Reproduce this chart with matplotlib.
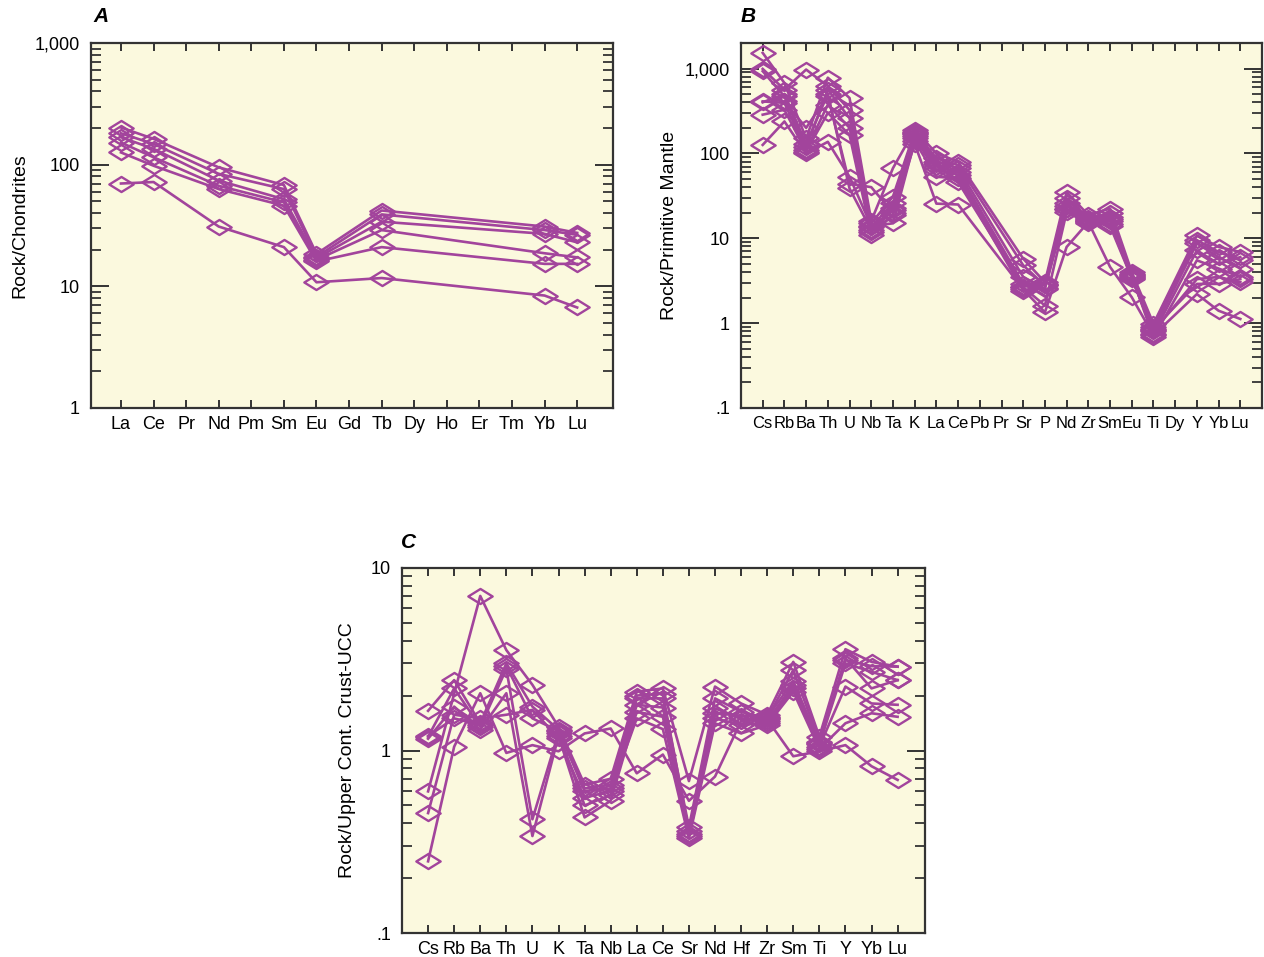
import numpy as np
import matplotlib
matplotlib.use("Agg")
import matplotlib.pyplot as plt
from matplotlib.path import Path
from matplotlib.markers import MarkerStyle
from matplotlib.ticker import FixedLocator, LogLocator, NullFormatter, FuncFormatter

nan = np.nan

# A: chondrite-normalized REE
ree = ["La", "Ce", "Pr", "Nd", "Pm", "Sm", "Eu", "Gd", "Tb", "Dy", "Ho", "Er", "Tm", "Yb", "Lu"]
ree_samples = [
    [202, 163, nan, 95, nan, 68, 18.5, nan, 42, nan, nan, nan, nan, 31, 27.5],
    [181, 148, nan, 84, nan, 63, 17.5, nan, 39, nan, nan, nan, nan, 29, 26.5],
    [168, 135, nan, 74, nan, 52, 17.0, nan, 34, nan, nan, nan, nan, 27, 23],
    [152, 115, nan, 67, nan, 49, 16.5, nan, 29, nan, nan, nan, nan, 18.7, 17.3],
    [126, 98, nan, 63, nan, 46, 16.0, nan, 21, nan, nan, nan, nan, 15.3, 15.3],
    [70, 72, nan, 31, nan, 21, 10.8, nan, 11.7, nan, nan, nan, nan, 8.4, 6.7],
]

# B: primitive-mantle-normalized spider diagram
pm = ["Cs", "Rb", "Ba", "Th", "U", "Nb", "Ta", "K", "La", "Ce", "Pb", "Pr",
      "Sr", "P", "Nd", "Zr", "Sm", "Eu", "Ti", "Dy", "Y", "Yb", "Lu"]
pm_samples = [
    [1530, 676, 150, 780, 450, 16, 67, 190, 100, 80, nan, nan, 5.75, 3.04, 35, 18.8, 22.4, 4.0, 0.98, nan, 10.8, 7.9, 6.9],
    [990, 565, 973, 620, 325, 15, 31, 180, 88, 73, nan, nan, 4.8, 2.78, 29.5, 17.5, 19.6, 3.65, 0.90, nan, 9.5, 6.9, 5.5],
    [930, 470, 118, 565, 260, 13.5, 26, 170, 80, 67, nan, nan, 3.5, 2.54, 25.7, 16.5, 17.1, 3.33, 0.82, nan, 8.7, 6.0, 4.4],
    [410, 394, 110, 375, 200, 12, 21.5, 160, 70, 61, nan, nan, 2.9, 2.9, 22.4, 15.8, 14.9, 3.5, 0.75, nan, 7.2, 5.0, 6.0],
    [286, 327, 105, 300, 165, 11, 18.8, 150, 64, 56, nan, nan, 2.65, 1.61, 20.4, 15.0, 16.0, 3.6, 0.68, nan, 5.5, 4.4, 3.5],
    [126, 238, 100, 137, 53, 14, 15, 140, 53, 51, nan, nan, 2.42, 2.6, 22.0, 16.0, 14.0, 3.4, 0.80, nan, 3.3, 3.5, 3.04],
    [nan, 410, 200, 480, 44, 40, 20, 130, 25.6, 25, nan, nan, 2.5, 1.34, 7.9, 15.5, 4.6, 2.02, 0.72, nan, 2.2, 1.4, 1.12],
    [400, 500, 130, 500, 38.6, 12.5, 23, 175, 75, 46, nan, nan, 2.7, 2.8, 24.0, 17.0, 18.0, 3.8, 0.86, nan, 2.9, 2.9, 3.3],
]

# C: upper-continental-crust-normalized
ucc = ["Cs", "Rb", "Ba", "Th", "U", "K", "Ta", "Nb", "La", "Ce",
       "Sr", "Nd", "Hf", "Zr", "Sm", "Ti", "Y", "Yb", "Lu"]
ucc_samples = [
    [0.597, nan, 7.03, 3.55, 2.29, 1.35, 0.65, 0.70, 2.10, 2.19, 0.68, 2.24, 1.81, 1.57, 3.06, 1.19, 3.59, 3.06, 2.88],
    [1.65, 2.43, 1.41, 3.00, 1.74, 1.30, 0.60, 0.62, 1.93, 1.93, 0.38, 1.93, 1.63, 1.50, 2.76, 1.12, 3.13, 2.90, 2.88],
    [1.19, 2.19, 1.35, 2.80, 0.42, 1.25, 0.50, 0.57, 1.78, 1.72, 0.35, 1.70, 1.50, 1.45, 2.29, 1.08, 3.00, 2.70, 2.43],
    [1.16, 1.74, 1.30, 2.06, 0.34, 1.20, 0.43, 0.53, 1.63, 1.53, 0.34, 1.50, 1.38, 1.42, 2.19, 1.05, 2.24, 1.81, 1.78],
    [0.454, 1.57, 1.50, 1.57, 1.67, 1.17, 0.55, 0.60, 1.50, 1.31, 0.33, 1.41, 1.24, 1.38, 2.10, 1.02, 1.41, 1.60, 1.53],
    [0.247, 1.05, 2.06, 0.97, 1.07, 0.99, 1.24, 1.32, 0.75, 0.95, 0.53, 0.72, 1.45, 1.48, 0.93, 0.99, 1.07, 0.82, 0.69],
    [1.20, 1.50, 1.38, 2.90, 1.50, 1.28, 0.62, 0.65, 2.00, 2.05, 0.36, 1.60, 1.55, 1.52, 2.40, 1.10, 3.20, 2.19, 2.43],
]

purple = "#a2449c"
bg = "#fbf9de"
plt.rcParams["font.family"] = ["Liberation Sans Narrow", "Liberation Sans", "DejaVu Sans"]

# open diamond, wider than tall
diamond = MarkerStyle(Path([(-1, 0), (0, 0.62), (1, 0), (0, -0.62), (-1, 0)],
                           [Path.MOVETO, Path.LINETO, Path.LINETO, Path.LINETO, Path.CLOSEPOLY]))


def fmt(v, pos):
    if v >= 1000:
        return "{:,.0f}".format(v)
    if v < 1:
        return ".1"
    return "{:.0f}".format(v)


def panel(ax, labels, samples, ylim, ylabel, xlim, label_x, xsize=13):
    x = np.arange(len(labels))
    for s in samples:
        s = np.array(s, dtype=float)
        ok = ~np.isnan(s)
        ax.plot(x[ok], s[ok], color=purple, lw=1.9, marker=diamond, ms=17.5,
                mfc="none", mec=purple, mew=1.7, zorder=3)
    ax.set_yscale("log")
    ax.set_ylim(*ylim)
    ax.set_xlim(*xlim)
    ax.set_facecolor(bg)
    ax.set_xticks(x)
    ax.set_xticklabels(labels, fontsize=xsize)
    decades = [10.0 ** k for k in range(int(np.floor(np.log10(ylim[0]))), int(np.ceil(np.log10(ylim[1]))) + 1)]
    ax.yaxis.set_major_locator(FixedLocator(decades))
    ax.yaxis.set_minor_locator(LogLocator(base=10, subs=np.arange(2, 10)))
    ax.yaxis.set_major_formatter(FuncFormatter(fmt))
    ax.yaxis.set_minor_formatter(NullFormatter())
    ax.tick_params(axis="x", direction="in", length=6, width=1.4, top=True, pad=6, color="#333333")
    ax.tick_params(axis="y", which="major", direction="in", length=13, width=1.4, right=True,
                   labelsize=13, pad=8, color="#333333")
    ax.tick_params(axis="y", which="minor", direction="in", length=7, width=1.3, right=True, color="#333333")
    for sp in ax.spines.values():
        sp.set_linewidth(1.6)
        sp.set_color("#333333")
    ax.set_ylabel(ylabel, fontsize=14)
    ax.yaxis.set_label_coords(label_x, 0.5)


fig = plt.figure(figsize=(12.64, 9.57), dpi=100)
ax_a = fig.add_axes([91 / 1264, 1 - 408 / 957, 522 / 1264, 365 / 957])
ax_b = fig.add_axes([741 / 1264, 1 - 408 / 957, 521 / 1264, 365 / 957])
ax_c = fig.add_axes([402 / 1264, 1 - 933 / 957, 523 / 1264, 365 / 957])

panel(ax_a, ree, ree_samples, (1, 1000), "Rock/Chondrites", (-0.92, 15.1), -0.12)
panel(ax_b, pm, pm_samples, (0.1, 2000), "Rock/Primitive Mantle", (-1.0, 23.0), -0.12, xsize=12)
panel(ax_c, ucc, ucc_samples, (0.1, 10), "Rock/Upper Cont. Crust-UCC", (-1.0, 19.05), -0.087)

for letter, (px, py) in zip("ABC", [(101, 17), (748, 17), (409, 542)]):
    fig.text(px / 1264, 1 - py / 957, letter, fontsize=15, fontweight="bold",
             fontstyle="italic", ha="center", va="center")

fig.savefig("out.png", dpi=100, facecolor="white")
